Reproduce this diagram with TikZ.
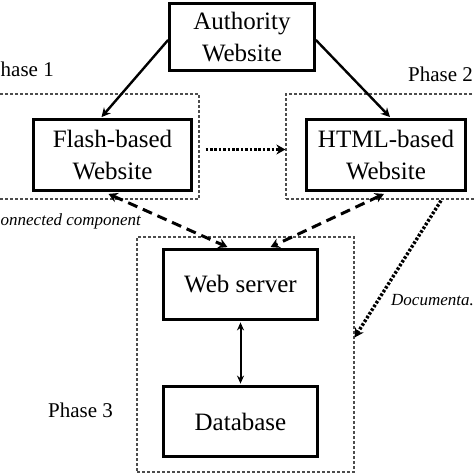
\documentclass[tikz,border=0pt]{standalone}
\usepackage{fontspec}
\setmainfont{Liberation Serif}
\usetikzlibrary{arrows.meta,calc}
\begin{document}
\begin{tikzpicture}[x=1pt,y=-1pt,
  box/.style={draw=black,line width=2.8pt,fill=white,inner sep=0pt,align=center,
    font=\fontsize{25}{32}\selectfont},
  phasebox/.style={draw=black!70,line width=1.2pt,dash pattern=on 3pt off 2pt,inner sep=0pt},
  phaselabel/.style={font=\fontsize{21}{24}\selectfont,inner sep=0pt,anchor=base west},
  itlabel/.style={font=\fontsize{17}{20}\selectfont\itshape,inner sep=0pt,anchor=base west},
  solidarrow/.style={line width=2.4pt,-{Stealth[length=9pt,width=9pt]}},
  dasharrow/.style={line width=3pt,dash pattern=on 10pt off 6pt,{Stealth[length=9pt,width=10pt]}-{Stealth[length=9pt,width=10pt]}},
  dotarrow/.style={line width=3.4pt,dash pattern=on 2.6pt off 1.8pt,-{Stealth[length=9pt,width=10pt]}},
  dblarrow/.style={line width=2pt,{Stealth[length=8pt,width=7pt]}-{Stealth[length=8pt,width=7pt]}}
]
\useasboundingbox (0,0) rectangle (474,474);
% phase boxes
\node[phasebox,minimum width=209pt,minimum height=105pt] (p1) at (94.5,146.5) {};
\node[phasebox,minimum width=198pt,minimum height=105pt] (p2) at (385,146.5) {};
\node[phasebox,minimum width=217pt,minimum height=235pt] (p3) at (245.5,354.5) {};
% labels
\node[phaselabel] (l1) at (0.5,76) {hase 1};
\node[phaselabel] (l2) at (408,81) {Phase 2};
\node[phaselabel] (l3) at (48,417) {Phase 3};
\node[itlabel] (l4) at (0.5,225) {onnected component};
\node[itlabel] (l5) at (391,305) {Documenta.};
% main boxes
\node[box,minimum width=145pt,minimum height=67pt] (auth) at (242,37) {Authority\\Website};
\node[box,minimum width=158pt,minimum height=71pt] (flash) at (112.5,155) {Flash-based\\Website};
\node[box,minimum width=159pt,minimum height=71pt] (html) at (386,155) {HTML-based\\Website};
\node[box,minimum width=154pt,minimum height=70pt] (web) at (240.5,284.5) {Web server};
\node[box,minimum width=154pt,minimum height=70pt] (db) at (240.5,421.5) {Database};
% connectors
\draw[solidarrow] ($(auth.west)+(0,3)$) -- ($(flash.north)+(-11,-1)$);
\draw[solidarrow] ($(auth.east)+(0,3)$) -- ($(html.north)+(4,-1)$);
\draw[dotarrow] ($(p1.east)+(6,3)$) -- ($(p2.west)+(0,3)$);
\draw[dasharrow] ($(flash.south)+(-4,2)$) -- ($(web.north)+(-13,-1)$);
\draw[dasharrow] ($(html.south)+(-2,2)$) -- ($(web.north)+(30,-1)$);
\draw[dotarrow] ($(p2.south)+(56,1)$) -- ($(p3.east)+(0,-17)$);
\draw[dblarrow] ($(web.south)+(0,1.5)$) -- ($(db.north)+(0,-1.5)$);
\end{tikzpicture}
\end{document}
